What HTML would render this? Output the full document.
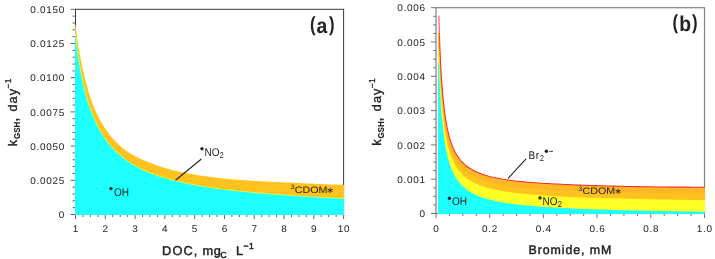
<!DOCTYPE html>
<html lang="en"><head><meta charset="utf-8"><title>kGSH vs DOC and Bromide</title>
<style>html,body{margin:0;padding:0;background:#fff}svg{display:block}</style></head>
<body>
<svg width="715" height="259" viewBox="0 0 715 259" font-family="'Liberation Sans', 'DejaVu Sans', sans-serif">
<rect width="715" height="259" fill="#fff"/>
<g id="panel-a">
<rect x="75.5" y="9.3" width="268.10" height="205.20" fill="none" stroke="#3a3a3a" stroke-width="1"/>
<path d="M70.70,214.50H75.5M72.50,207.66H75.5M72.50,200.82H75.5M72.50,193.98H75.5M72.50,187.14H75.5M70.70,180.30H75.5M72.50,173.46H75.5M72.50,166.62H75.5M72.50,159.78H75.5M72.50,152.94H75.5M70.70,146.10H75.5M72.50,139.26H75.5M72.50,132.42H75.5M72.50,125.58H75.5M72.50,118.74H75.5M70.70,111.90H75.5M72.50,105.06H75.5M72.50,98.22H75.5M72.50,91.38H75.5M72.50,84.54H75.5M70.70,77.70H75.5M72.50,70.86H75.5M72.50,64.02H75.5M72.50,57.18H75.5M72.50,50.34H75.5M70.70,43.50H75.5M72.50,36.66H75.5M72.50,29.82H75.5M72.50,22.98H75.5M72.50,16.14H75.5M70.70,9.30H75.5M75.50,214.5V219.00M82.95,214.5V217.00M90.39,214.5V217.00M97.84,214.5V217.00M105.29,214.5V219.00M112.74,214.5V217.00M120.18,214.5V217.00M127.63,214.5V217.00M135.08,214.5V219.00M142.53,214.5V217.00M149.97,214.5V217.00M157.42,214.5V217.00M164.87,214.5V219.00M172.31,214.5V217.00M179.76,214.5V217.00M187.21,214.5V217.00M194.66,214.5V219.00M202.10,214.5V217.00M209.55,214.5V217.00M217.00,214.5V217.00M224.44,214.5V219.00M231.89,214.5V217.00M239.34,214.5V217.00M246.79,214.5V217.00M254.23,214.5V219.00M261.68,214.5V217.00M269.13,214.5V217.00M276.58,214.5V217.00M284.02,214.5V219.00M291.47,214.5V217.00M298.92,214.5V217.00M306.36,214.5V217.00M313.81,214.5V219.00M321.26,214.5V217.00M328.71,214.5V217.00M336.15,214.5V217.00M343.60,214.5V219.00" stroke="#505050" stroke-width="0.9" fill="none"/>
<path d="M75.00,215.00L75.00,24.87L75.5,24.9L76.0,28.8L76.5,32.6L77.0,36.3L77.5,39.8L78.0,43.2L78.5,46.4L79.0,49.5L79.5,52.5L80.0,55.4L80.5,58.1L81.1,60.8L81.6,63.4L82.1,65.9L82.6,68.3L83.1,70.6L83.6,72.9L84.1,75.1L84.6,77.2L85.1,79.2L85.6,81.2L86.1,83.2L86.6,85.0L87.1,86.8L87.6,88.6L88.1,90.3L88.6,92.0L89.1,93.6L89.6,95.1L90.1,96.7L90.6,98.1L91.2,99.6L91.7,101.0L92.2,102.4L92.7,103.7L93.2,105.0L93.7,106.3L94.2,107.5L94.7,108.7L95.2,109.9L95.7,111.1L96.2,112.2L96.7,113.3L97.2,114.4L97.7,115.4L98.2,116.4L98.7,117.4L99.2,118.4L99.7,119.4L100.2,120.3L100.7,121.2L101.2,122.1L101.8,123.0L102.3,123.9L102.8,124.7L103.3,125.5L103.8,126.4L104.3,127.2L104.8,127.9L105.3,128.7L107.3,131.6L109.3,134.2L111.3,136.7L113.3,139.0L115.3,141.2L117.3,143.2L119.3,145.1L121.3,146.9L123.3,148.5L125.3,150.0L127.3,151.4L129.3,152.7L131.3,153.9L133.3,155.1L135.3,156.2L137.3,157.3L139.3,158.3L141.3,159.2L143.3,160.1L145.3,161.0L147.3,161.8L149.3,162.5L151.3,163.3L153.4,164.1L155.4,164.8L157.4,165.6L159.4,166.2L161.4,166.9L163.4,167.5L165.4,168.1L167.4,168.7L169.4,169.2L171.4,169.8L173.4,170.3L175.4,170.8L177.4,171.2L179.4,171.7L181.4,172.1L183.4,172.5L185.4,173.0L187.4,173.3L189.4,173.7L191.4,174.1L193.4,174.4L195.4,174.8L197.4,175.1L199.4,175.4L201.4,175.7L203.4,176.0L205.4,176.3L207.4,176.6L209.4,176.8L211.4,177.1L213.4,177.3L215.4,177.6L217.4,177.8L219.4,178.0L221.4,178.2L223.4,178.5L225.4,178.7L227.4,178.8L229.5,179.0L231.5,179.2L233.5,179.4L235.5,179.6L237.5,179.7L239.5,179.9L241.5,180.0L243.5,180.2L245.5,180.3L247.5,180.5L249.5,180.6L251.5,180.7L253.5,180.9L255.5,181.0L257.5,181.1L259.5,181.2L261.5,181.3L263.5,181.4L265.5,181.5L267.5,181.6L269.5,181.7L271.5,181.8L273.5,181.9L275.5,182.0L277.5,182.1L279.5,182.2L281.5,182.2L283.5,182.3L285.5,182.4L287.5,182.4L289.5,182.5L291.5,182.6L293.5,182.7L295.5,182.8L297.5,182.9L299.5,183.1L301.5,183.2L303.5,183.3L305.6,183.4L307.6,183.5L309.6,183.6L311.6,183.7L313.6,183.7L315.6,183.8L317.6,183.9L319.6,184.0L321.6,184.1L323.6,184.2L325.6,184.3L327.6,184.3L329.6,184.4L331.6,184.5L333.6,184.6L335.6,184.6L337.6,184.7L339.6,184.8L341.6,184.8L343.6,184.9L344.00,184.92L344.00,215.00Z" fill="#FFC21E"/>
<path d="M75.00,215.00L75.00,33.13L75.5,33.1L76.0,37.7L76.5,42.1L77.0,46.2L77.5,50.2L78.0,54.0L78.5,57.6L79.0,60.9L79.5,64.1L80.0,67.1L80.5,70.0L81.1,72.8L81.6,75.5L82.1,78.1L82.6,80.5L83.1,82.9L83.6,85.2L84.1,87.3L84.6,89.4L85.1,91.5L85.6,93.4L86.1,95.3L86.6,97.1L87.1,98.9L87.6,100.6L88.1,102.2L88.6,103.8L89.1,105.3L89.6,106.8L90.1,108.2L90.6,109.6L91.2,111.0L91.7,112.3L92.2,113.5L92.7,114.7L93.2,115.9L93.7,117.1L94.2,118.4L94.7,119.6L95.2,120.7L95.7,121.8L96.2,122.9L96.7,124.0L97.2,125.1L97.7,126.1L98.2,127.1L98.7,128.1L99.2,129.0L99.7,129.9L100.2,130.8L100.7,131.7L101.2,132.6L101.8,133.4L102.3,134.3L102.8,135.1L103.3,135.9L103.8,136.6L104.3,137.4L104.8,138.1L105.3,138.9L107.3,141.6L109.3,144.2L111.3,146.5L113.3,148.7L115.3,150.8L117.3,152.7L119.3,154.5L121.3,156.2L123.3,157.8L125.3,159.3L127.3,160.7L129.3,162.1L131.3,163.4L133.3,164.6L135.3,165.7L137.3,166.8L139.3,167.9L141.3,168.9L143.3,169.9L145.3,170.8L147.3,171.7L149.3,172.5L151.3,173.3L153.4,174.1L155.4,174.8L157.4,175.5L159.4,176.2L161.4,176.8L163.4,177.4L165.4,178.0L167.4,178.6L169.4,179.2L171.4,179.7L173.4,180.2L175.4,180.7L177.4,181.2L179.4,181.7L181.4,182.1L183.4,182.6L185.4,183.0L187.4,183.4L189.4,183.8L191.4,184.2L193.4,184.6L195.4,185.0L197.4,185.4L199.4,185.7L201.4,186.1L203.4,186.4L205.4,186.7L207.4,187.0L209.4,187.4L211.4,187.7L213.4,187.9L215.4,188.2L217.4,188.5L219.4,188.8L221.4,189.1L223.4,189.3L225.4,189.6L227.4,189.8L229.5,190.0L231.5,190.3L233.5,190.5L235.5,190.7L237.5,190.9L239.5,191.1L241.5,191.3L243.5,191.5L245.5,191.7L247.5,191.9L249.5,192.1L251.5,192.3L253.5,192.5L255.5,192.7L257.5,192.8L259.5,193.0L261.5,193.2L263.5,193.3L265.5,193.5L267.5,193.6L269.5,193.8L271.5,193.9L273.5,194.1L275.5,194.2L277.5,194.4L279.5,194.5L281.5,194.7L283.5,194.8L285.5,194.9L287.5,195.1L289.5,195.2L291.5,195.4L293.5,195.5L295.5,195.6L297.5,195.8L299.5,195.9L301.5,196.0L303.5,196.2L305.6,196.3L307.6,196.4L309.6,196.5L311.6,196.7L313.6,196.8L315.6,196.9L317.6,197.0L319.6,197.1L321.6,197.3L323.6,197.4L325.6,197.5L327.6,197.6L329.6,197.7L331.6,197.8L333.6,197.9L335.6,198.0L337.6,198.1L339.6,198.2L341.6,198.3L343.6,198.4L344.00,198.42L344.00,215.00Z" fill="#1EFFFF"/>
<path d="M75.5,33.1L76.0,37.7L76.5,42.1L77.0,46.2L77.5,50.2L78.0,54.0L78.5,57.6L79.0,60.9L79.5,64.1L80.0,67.1L80.5,70.0L81.1,72.8L81.6,75.5L82.1,78.1L82.6,80.5L83.1,82.9L83.6,85.2L84.1,87.3L84.6,89.4L85.1,91.5L85.6,93.4L86.1,95.3L86.6,97.1L87.1,98.9L87.6,100.6L88.1,102.2L88.6,103.8L89.1,105.3L89.6,106.8L90.1,108.2L90.6,109.6L91.2,111.0L91.7,112.3L92.2,113.5L92.7,114.7L93.2,115.9L93.7,117.1L94.2,118.4L94.7,119.6L95.2,120.7L95.7,121.8L96.2,122.9L96.7,124.0L97.2,125.1L97.7,126.1L98.2,127.1L98.7,128.1L99.2,129.0L99.7,129.9L100.2,130.8L100.7,131.7L101.2,132.6L101.8,133.4L102.3,134.3L102.8,135.1L103.3,135.9L103.8,136.6L104.3,137.4L104.8,138.1L105.3,138.9L107.3,141.6L109.3,144.2L111.3,146.5L113.3,148.7L115.3,150.8L117.3,152.7L119.3,154.5L121.3,156.2L123.3,157.8L125.3,159.3L127.3,160.7L129.3,162.1L131.3,163.4L133.3,164.6L135.3,165.7L137.3,166.8L139.3,167.9L141.3,168.9L143.3,169.9L145.3,170.8L147.3,171.7L149.3,172.5L151.3,173.3L153.4,174.1L155.4,174.8L157.4,175.5L159.4,176.2L161.4,176.8L163.4,177.4L165.4,178.0L167.4,178.6L169.4,179.2L171.4,179.7L173.4,180.2L175.4,180.7L177.4,181.2L179.4,181.7L181.4,182.1L183.4,182.6L185.4,183.0L187.4,183.4L189.4,183.8L191.4,184.2L193.4,184.6L195.4,185.0L197.4,185.4L199.4,185.7L201.4,186.1L203.4,186.4L205.4,186.7L207.4,187.0L209.4,187.4L211.4,187.7L213.4,187.9L215.4,188.2L217.4,188.5L219.4,188.8L221.4,189.1L223.4,189.3L225.4,189.6L227.4,189.8L229.5,190.0L231.5,190.3L233.5,190.5L235.5,190.7L237.5,190.9L239.5,191.1L241.5,191.3L243.5,191.5L245.5,191.7L247.5,191.9L249.5,192.1L251.5,192.3L253.5,192.5L255.5,192.7L257.5,192.8L259.5,193.0L261.5,193.2L263.5,193.3L265.5,193.5L267.5,193.6L269.5,193.8L271.5,193.9L273.5,194.1L275.5,194.2L277.5,194.4L279.5,194.5L281.5,194.7L283.5,194.8L285.5,194.9L287.5,195.1L289.5,195.2L291.5,195.4L293.5,195.5L295.5,195.6L297.5,195.8L299.5,195.9L301.5,196.0L303.5,196.2L305.6,196.3L307.6,196.4L309.6,196.5L311.6,196.7L313.6,196.8L315.6,196.9L317.6,197.0L319.6,197.1L321.6,197.3L323.6,197.4L325.6,197.5L327.6,197.6L329.6,197.7L331.6,197.8L333.6,197.9L335.6,198.0L337.6,198.1L339.6,198.2L341.6,198.3L343.6,198.4" fill="none" stroke="#FFFF28" stroke-width="0.7"/>
<g font-size="9.7" fill="#222" text-anchor="end" letter-spacing="0.7">
<text transform="translate(65.10,218.20) skewX(0.1) scale(1.03,1)" >0</text>
<text transform="translate(65.10,184.00) skewX(0.1) scale(1.03,1)" >0.0025</text>
<text transform="translate(65.10,149.80) skewX(0.1) scale(1.03,1)" >0.0050</text>
<text transform="translate(65.10,115.60) skewX(0.1) scale(1.03,1)" >0.0075</text>
<text transform="translate(65.10,81.40) skewX(0.1) scale(1.03,1)" >0.0100</text>
<text transform="translate(65.10,47.20) skewX(0.1) scale(1.03,1)" >0.0125</text>
<text transform="translate(65.10,13.00) skewX(0.1) scale(1.03,1)" >0.0150</text>
</g>
<g font-size="9.7" fill="#222" text-anchor="middle" letter-spacing="0.7">
<text transform="translate(75.85,232.00) skewX(0.1) scale(1.03,1)" >1</text>
<text transform="translate(105.64,232.00) skewX(0.1) scale(1.03,1)" >2</text>
<text transform="translate(135.43,232.00) skewX(0.1) scale(1.03,1)" >3</text>
<text transform="translate(165.22,232.00) skewX(0.1) scale(1.03,1)" >4</text>
<text transform="translate(195.01,232.00) skewX(0.1) scale(1.03,1)" >5</text>
<text transform="translate(224.79,232.00) skewX(0.1) scale(1.03,1)" >6</text>
<text transform="translate(254.58,232.00) skewX(0.1) scale(1.03,1)" >7</text>
<text transform="translate(284.37,232.00) skewX(0.1) scale(1.03,1)" >8</text>
<text transform="translate(314.16,232.00) skewX(0.1) scale(1.03,1)" >9</text>
<text transform="translate(343.95,232.00) skewX(0.1) scale(1.03,1)" >10</text>
</g>
<g transform="translate(17,146.2) rotate(-90)" fill="#222" stroke="#222" stroke-width="0.34">
<text x="0" y="0" font-size="12.8">k</text>
<text transform="translate(7.2,3.1) scale(0.86,1)" font-size="9.3" font-weight="bold" stroke-width="0.1">GSH</text>
<text x="24.6" y="0.6" font-size="13" font-weight="bold" stroke-width="0.1">,</text>
<text x="34.6" y="0" font-size="12.6" letter-spacing="1.15">day</text>
<text x="57.3" y="-6.2" font-size="8.6" letter-spacing="0.6">−1</text>
</g>
<text transform="translate(0.00,254.80) skewX(0.1)" font-size="12.8" fill="#222" stroke="#222" stroke-width="0.45"><tspan x="162.1" letter-spacing="1.1">DOC,</tspan><tspan x="202.4" letter-spacing="0.8">mg</tspan><tspan x="220.2" font-size="9" dy="3.2" font-weight="bold" stroke-width="0.1">C</tspan><tspan x="236" dy="-3.2">L</tspan><tspan x="243.4" font-size="8.6" dy="-6" letter-spacing="0.5">−1</tspan></text>
<text transform="translate(310.00,30.70) skewX(0.1) scale(0.82,1)" font-weight="bold" fill="#222" font-size="20.5">(</text>
<text transform="translate(316.60,32.80) skewX(0.1) scale(0.9,1)" font-weight="bold" fill="#222" font-size="21.5">a</text>
<text transform="translate(328.90,30.70) skewX(0.1) scale(0.82,1)" font-weight="bold" fill="#222" font-size="20.5">)</text>
<circle cx="111" cy="188.6" r="1.7" fill="#222"/>
<text transform="translate(113.90,196.00) skewX(0.1) scale(0.9,1)" font-size="11.2" fill="#222" >OH</text>
<circle cx="202" cy="148.7" r="1.7" fill="#222"/>
<text transform="translate(204.50,155.70) skewX(0.1) scale(0.9,1)" font-size="11.2" fill="#222" >NO<tspan font-size="8.5" dy="1.9">2</tspan></text>
<text transform="translate(294.90,192.70) skewX(0.1) scale(1.14,1)" font-size="9.4" fill="#222" ><tspan font-size="6.3" dy="-3.6" dx="-3.6">3</tspan><tspan dy="3.6">CDOM</tspan><tspan dx="-1" font-size="8.2">∗</tspan></text>
<path d="M175.5,180.2L201.4,159" stroke="#222" stroke-width="1.1"/>
</g>
<g id="panel-b">
<rect x="436" y="7.7" width="268.50" height="205.80" fill="none" stroke="#808080" stroke-width="1.2"/>
<path d="M431.00,213.50H436M433.20,204.93H436M433.20,196.35H436M433.20,187.78H436M431.00,179.20H436M433.20,170.62H436M433.20,162.05H436M433.20,153.47H436M431.00,144.90H436M433.20,136.32H436M433.20,127.75H436M433.20,119.17H436M431.00,110.60H436M433.20,102.02H436M433.20,93.45H436M433.20,84.88H436M431.00,76.30H436M433.20,67.72H436M433.20,59.15H436M433.20,50.57H436M431.00,42.00H436M433.20,33.42H436M433.20,24.85H436M433.20,16.27H436M431.00,7.70H436M436.00,213.5V218.20M449.43,213.5V216.10M462.85,213.5V216.10M476.27,213.5V216.10M489.70,213.5V218.20M503.12,213.5V216.10M516.55,213.5V216.10M529.98,213.5V216.10M543.40,213.5V218.20M556.83,213.5V216.10M570.25,213.5V216.10M583.67,213.5V216.10M597.10,213.5V218.20M610.52,213.5V216.10M623.95,213.5V216.10M637.38,213.5V216.10M650.80,213.5V218.20M664.23,213.5V216.10M677.65,213.5V216.10M691.08,213.5V216.10M704.50,213.5V218.20" stroke="#666" stroke-width="0.9" fill="none"/>
<path d="M438.00,214.00L438.00,33.60L438.8,33.6L439.0,33.6L439.2,33.6L439.4,33.6L439.6,39.0L439.8,44.5L440.0,49.6L440.2,54.4L440.4,58.8L440.6,63.0L440.8,66.9L441.0,70.6L441.2,74.1L441.4,77.3L441.6,80.4L441.8,83.4L442.1,86.2L442.3,88.8L442.5,91.3L442.7,93.7L442.9,96.0L443.1,98.2L443.3,100.3L443.5,102.3L443.7,104.2L443.9,106.0L444.1,107.8L444.3,109.4L444.5,111.1L444.7,112.6L444.9,114.1L445.1,115.6L445.3,116.9L445.5,118.3L445.7,119.6L445.9,120.8L446.1,122.0L446.3,123.2L446.5,124.3L446.7,125.4L446.9,126.4L447.1,127.5L447.3,128.5L447.5,129.4L447.7,130.4L447.9,131.3L448.1,132.1L448.3,133.0L448.5,133.8L448.7,134.6L448.9,135.4L449.1,136.2L449.3,136.9L449.5,137.6L449.7,138.3L449.9,139.0L450.1,139.7L450.3,140.3L450.5,141.0L450.7,141.6L450.9,142.2L451.1,142.8L451.3,143.3L451.5,143.9L451.7,144.5L451.9,145.0L452.1,145.5L452.3,146.0L452.6,146.5L452.8,147.0L453.0,147.5L453.2,148.0L453.4,148.4L453.6,148.9L453.8,149.3L454.0,149.8L454.2,150.2L454.4,150.6L454.6,151.0L454.8,151.4L455.0,151.8L455.2,152.2L455.4,152.5L455.6,152.9L455.8,153.3L456.0,153.6L456.2,154.0L456.4,154.3L456.6,154.7L456.8,155.0L457.0,155.3L457.2,155.6L457.4,155.9L457.6,156.2L457.8,156.5L458.0,156.8L458.2,157.1L458.4,157.4L458.6,157.7L458.8,158.0L459.0,158.3L459.2,158.5L459.4,158.8L459.6,159.0L459.8,159.3L460.0,159.6L460.2,159.8L460.4,160.0L460.6,160.3L460.8,160.5L461.0,160.8L461.2,161.0L461.4,161.2L461.6,161.4L461.8,161.7L462.0,161.9L462.2,162.1L462.4,162.3L462.6,162.5L462.9,162.7L464.9,164.6L466.9,166.3L468.9,167.7L471.0,169.0L473.0,170.2L475.0,171.2L477.1,172.2L479.1,173.0L481.1,173.8L483.2,174.5L485.2,175.2L487.2,175.8L489.2,176.4L491.3,176.9L493.3,177.4L495.3,177.8L497.4,178.2L499.4,178.6L501.4,179.0L503.5,179.3L505.5,179.6L507.5,179.9L509.6,180.2L511.6,180.5L513.6,180.8L515.6,181.0L517.7,181.2L519.7,181.4L521.7,181.6L523.8,181.8L525.8,182.0L527.8,182.2L529.9,182.4L531.9,182.5L533.9,182.7L536.0,182.8L538.0,183.0L540.0,183.1L542.0,183.2L544.1,183.4L546.1,183.5L548.1,183.6L550.2,183.7L552.2,183.8L554.2,183.9L556.3,184.0L558.3,184.1L560.3,184.2L562.4,184.3L564.4,184.4L566.4,184.5L568.4,184.6L570.5,184.7L572.5,184.8L574.5,184.9L576.6,184.9L578.6,185.0L580.6,185.1L582.7,185.2L584.7,185.2L586.7,185.3L588.8,185.4L590.8,185.5L592.8,185.5L594.8,185.6L596.9,185.6L598.9,185.7L600.9,185.8L603.0,185.8L605.0,185.9L607.0,185.9L609.1,186.0L611.1,186.0L613.1,186.1L615.2,186.1L617.2,186.2L619.2,186.2L621.2,186.3L623.3,186.3L625.3,186.4L627.3,186.4L629.4,186.4L631.4,186.5L633.4,186.5L635.5,186.6L637.5,186.6L639.5,186.6L641.5,186.7L643.6,186.7L645.6,186.7L647.6,186.8L649.7,186.8L651.7,186.8L653.7,186.9L655.8,186.9L657.8,186.9L659.8,187.0L661.9,187.0L663.9,187.0L665.9,187.0L667.9,187.0L670.0,187.1L672.0,187.1L674.0,187.1L676.1,187.1L678.1,187.1L680.1,187.1L682.2,187.1L684.2,187.1L686.2,187.1L688.3,187.1L690.3,187.2L692.3,187.2L694.3,187.2L696.4,187.2L698.4,187.2L700.4,187.2L702.5,187.2L704.5,187.2L705.00,187.19L705.00,214.00Z" fill="#FFB726"/>
<path d="M438.00,214.00L438.00,41.27L438.8,41.3L439.0,44.1L439.2,46.7L439.4,49.2L439.6,54.2L439.8,59.1L440.0,63.6L440.2,67.9L440.4,71.9L440.6,75.7L440.8,79.2L441.0,82.5L441.2,85.7L441.4,88.7L441.6,91.5L441.8,94.2L442.1,96.7L442.3,99.2L442.5,101.5L442.7,103.7L442.9,105.8L443.1,107.8L443.3,109.7L443.5,111.6L443.7,113.4L443.9,115.1L444.1,116.7L444.3,118.3L444.5,119.8L444.7,121.2L444.9,122.6L445.1,124.0L445.3,125.3L445.5,126.5L445.7,127.7L445.9,128.9L446.1,130.0L446.3,131.1L446.5,132.2L446.7,133.2L446.9,134.2L447.1,135.2L447.3,136.1L447.5,137.0L447.7,137.9L447.9,138.7L448.1,139.6L448.3,140.4L448.5,141.2L448.7,141.9L448.9,142.7L449.1,143.4L449.3,144.1L449.5,144.8L449.7,145.4L449.9,146.1L450.1,146.7L450.3,147.3L450.5,148.0L450.7,148.5L450.9,149.1L451.1,149.7L451.3,150.2L451.5,150.8L451.7,151.3L451.9,151.8L452.1,152.3L452.3,152.8L452.6,153.3L452.8,153.7L453.0,154.2L453.2,154.7L453.4,155.1L453.6,155.5L453.8,156.0L454.0,156.4L454.2,156.8L454.4,157.2L454.6,157.6L454.8,157.9L455.0,158.3L455.2,158.7L455.4,159.1L455.6,159.4L455.8,159.8L456.0,160.1L456.2,160.4L456.4,160.8L456.6,161.1L456.8,161.4L457.0,161.7L457.2,162.0L457.4,162.3L457.6,162.6L457.8,162.9L458.0,163.2L458.2,163.5L458.4,163.8L458.6,164.0L458.8,164.3L459.0,164.6L459.2,164.8L459.4,165.1L459.6,165.3L459.8,165.6L460.0,165.8L460.2,166.1L460.4,166.3L460.6,166.5L460.8,166.8L461.0,167.0L461.2,167.2L461.4,167.4L461.6,167.6L461.8,167.9L462.0,168.1L462.2,168.3L462.4,168.5L462.6,168.7L462.9,168.9L464.9,170.7L466.9,172.3L468.9,173.8L471.0,175.0L473.0,176.2L475.0,177.2L477.1,178.1L479.1,179.0L481.1,179.8L483.2,180.5L485.2,181.1L487.2,181.7L489.2,182.3L491.3,182.8L493.3,183.3L495.3,183.7L497.4,184.1L499.4,184.5L501.4,184.9L503.5,185.3L505.5,185.6L507.5,185.9L509.6,186.2L511.6,186.5L513.6,186.7L515.6,187.0L517.7,187.2L519.7,187.4L521.7,187.6L523.8,187.8L525.8,188.0L527.8,188.2L529.9,188.4L531.9,188.6L533.9,188.7L536.0,188.9L538.0,189.0L540.0,189.2L542.0,189.3L544.1,189.4L546.1,189.6L548.1,189.7L550.2,189.8L552.2,189.9L554.2,190.0L556.3,190.1L558.3,190.2L560.3,190.3L562.4,190.4L564.4,190.5L566.4,190.6L568.4,190.7L570.5,190.8L572.5,190.9L574.5,191.0L576.6,191.1L578.6,191.2L580.6,191.2L582.7,191.3L584.7,191.4L586.7,191.5L588.8,191.5L590.8,191.6L592.8,191.7L594.8,191.7L596.9,191.8L598.9,191.9L600.9,191.9L603.0,192.0L605.0,192.0L607.0,192.1L609.1,192.1L611.1,192.2L613.1,192.3L615.2,192.3L617.2,192.4L619.2,192.4L621.2,192.5L623.3,192.5L625.3,192.5L627.3,192.6L629.4,192.6L631.4,192.7L633.4,192.7L635.5,192.8L637.5,192.8L639.5,192.8L641.5,192.9L643.6,192.9L645.6,193.0L647.6,193.0L649.7,193.0L651.7,193.1L653.7,193.1L655.8,193.1L657.8,193.2L659.8,193.2L661.9,193.2L663.9,193.3L665.9,193.3L667.9,193.3L670.0,193.3L672.0,193.4L674.0,193.4L676.1,193.4L678.1,193.4L680.1,193.4L682.2,193.5L684.2,193.5L686.2,193.5L688.3,193.5L690.3,193.5L692.3,193.5L694.3,193.6L696.4,193.6L698.4,193.6L700.4,193.6L702.5,193.6L704.5,193.6L705.00,193.64L705.00,214.00Z" fill="#FFC21E"/>
<path d="M438.00,214.00L438.00,48.95L438.8,49.0L439.0,54.6L439.2,59.9L439.4,64.8L439.6,69.4L439.8,73.6L440.0,77.6L440.2,81.4L440.4,85.0L440.6,88.3L440.8,91.5L441.0,94.5L441.2,97.3L441.4,100.0L441.6,102.6L441.8,105.0L442.1,107.3L442.3,109.5L442.5,111.6L442.7,113.7L442.9,115.6L443.1,117.4L443.3,119.2L443.5,120.9L443.7,122.5L443.9,124.1L444.1,125.6L444.3,127.1L444.5,128.5L444.7,129.8L444.9,131.1L445.1,132.4L445.3,133.6L445.5,134.7L445.7,135.9L445.9,137.0L446.1,138.0L446.3,139.1L446.5,140.0L446.7,141.0L446.9,141.9L447.1,142.8L447.3,143.7L447.5,144.6L447.7,145.4L447.9,146.2L448.1,147.0L448.3,147.8L448.5,148.5L448.7,149.2L448.9,149.9L449.1,150.6L449.3,151.3L449.5,151.9L449.7,152.6L449.9,153.2L450.1,153.8L450.3,154.4L450.5,154.9L450.7,155.5L450.9,156.1L451.1,156.6L451.3,157.1L451.5,157.6L451.7,158.1L451.9,158.6L452.1,159.1L452.3,159.6L452.6,160.0L452.8,160.5L453.0,160.9L453.2,161.3L453.4,161.8L453.6,162.2L453.8,162.6L454.0,163.0L454.2,163.4L454.4,163.8L454.6,164.1L454.8,164.5L455.0,164.9L455.2,165.2L455.4,165.6L455.6,165.9L455.8,166.2L456.0,166.6L456.2,166.9L456.4,167.2L456.6,167.5L456.8,167.8L457.0,168.1L457.2,168.4L457.4,168.7L457.6,169.0L457.8,169.3L458.0,169.5L458.2,169.8L458.4,170.1L458.6,170.4L458.8,170.6L459.0,170.9L459.2,171.1L459.4,171.4L459.6,171.6L459.8,171.8L460.0,172.1L460.2,172.3L460.4,172.5L460.6,172.8L460.8,173.0L461.0,173.2L461.2,173.4L461.4,173.6L461.6,173.8L461.8,174.1L462.0,174.3L462.2,174.5L462.4,174.7L462.6,174.8L462.9,175.0L464.9,176.8L466.9,178.4L468.9,179.8L471.0,181.1L473.0,182.2L475.0,183.2L477.1,184.1L479.1,184.9L481.1,185.7L483.2,186.4L485.2,187.1L487.2,187.7L489.2,188.2L491.3,188.7L493.3,189.2L495.3,189.7L497.4,190.1L499.4,190.5L501.4,190.8L503.5,191.2L505.5,191.5L507.5,191.8L509.6,192.1L511.6,192.4L513.6,192.7L515.6,192.9L517.7,193.2L519.7,193.4L521.7,193.6L523.8,193.8L525.8,194.0L527.8,194.2L529.9,194.4L531.9,194.6L533.9,194.8L536.0,194.9L538.0,195.1L540.0,195.2L542.0,195.4L544.1,195.5L546.1,195.6L548.1,195.8L550.2,195.9L552.2,196.0L554.2,196.1L556.3,196.3L558.3,196.4L560.3,196.5L562.4,196.6L564.4,196.7L566.4,196.8L568.4,196.9L570.5,197.0L572.5,197.1L574.5,197.1L576.6,197.2L578.6,197.3L580.6,197.4L582.7,197.5L584.7,197.5L586.7,197.6L588.8,197.7L590.8,197.8L592.8,197.8L594.8,197.9L596.9,198.0L598.9,198.0L600.9,198.1L603.0,198.1L605.0,198.2L607.0,198.3L609.1,198.3L611.1,198.4L613.1,198.4L615.2,198.5L617.2,198.5L619.2,198.6L621.2,198.6L623.3,198.7L625.3,198.7L627.3,198.8L629.4,198.8L631.4,198.9L633.4,198.9L635.5,199.0L637.5,199.0L639.5,199.0L641.5,199.1L643.6,199.1L645.6,199.2L647.6,199.2L649.7,199.2L651.7,199.3L653.7,199.3L655.8,199.4L657.8,199.4L659.8,199.4L661.9,199.5L663.9,199.5L665.9,199.5L667.9,199.6L670.0,199.6L672.0,199.6L674.0,199.7L676.1,199.7L678.1,199.7L680.1,199.8L682.2,199.8L684.2,199.8L686.2,199.8L688.3,199.9L690.3,199.9L692.3,199.9L694.3,200.0L696.4,200.0L698.4,200.0L700.4,200.0L702.5,200.1L704.5,200.1L705.00,200.09L705.00,214.00Z" fill="#FFFF28"/>
<path d="M438.00,214.00L438.00,62.50L438.8,62.5L439.0,68.0L439.2,73.0L439.4,77.8L439.6,82.2L439.8,86.4L440.0,90.3L440.2,93.9L440.4,97.4L440.6,100.7L440.8,103.7L441.0,106.7L441.2,109.4L441.4,112.1L441.6,114.6L441.8,117.0L442.1,119.2L442.3,121.4L442.5,123.5L442.7,125.4L442.9,127.3L443.1,129.2L443.3,130.9L443.5,132.6L443.7,134.2L443.9,135.7L444.1,137.2L444.3,138.6L444.5,140.0L444.7,141.3L444.9,142.6L445.1,143.9L445.3,145.1L445.5,146.2L445.7,147.3L445.9,148.4L446.1,149.5L446.3,150.5L446.5,151.5L446.7,152.4L446.9,153.3L447.1,154.2L447.3,155.1L447.5,156.0L447.7,156.8L447.9,157.6L448.1,158.4L448.3,159.1L448.5,159.8L448.7,160.6L448.9,161.3L449.1,161.9L449.3,162.6L449.5,163.3L449.7,163.9L449.9,164.5L450.1,165.1L450.3,165.7L450.5,166.3L450.7,166.8L450.9,167.4L451.1,167.9L451.3,168.4L451.5,168.9L451.7,169.4L451.9,169.9L452.1,170.4L452.3,170.9L452.6,171.3L452.8,171.8L453.0,172.2L453.2,172.6L453.4,173.0L453.6,173.5L453.8,173.9L454.0,174.3L454.2,174.6L454.4,175.0L454.6,175.4L454.8,175.8L455.0,176.1L455.2,176.5L455.4,176.8L455.6,177.2L455.8,177.5L456.0,177.8L456.2,178.2L456.4,178.5L456.6,178.8L456.8,179.1L457.0,179.4L457.2,179.7L457.4,180.0L457.6,180.3L457.8,180.5L458.0,180.8L458.2,181.1L458.4,181.4L458.6,181.6L458.8,181.9L459.0,182.1L459.2,182.4L459.4,182.6L459.6,182.9L459.8,183.1L460.0,183.4L460.2,183.6L460.4,183.8L460.6,184.0L460.8,184.3L461.0,184.5L461.2,184.7L461.4,184.9L461.6,185.1L461.8,185.3L462.0,185.5L462.2,185.7L462.4,185.9L462.6,186.1L462.9,186.3L464.9,188.1L466.9,189.7L468.9,191.1L471.0,192.4L473.0,193.5L475.0,194.5L477.1,195.4L479.1,196.3L481.1,197.0L483.2,197.7L485.2,198.4L487.2,199.0L489.2,199.5L491.3,200.1L493.3,200.5L495.3,201.0L497.4,201.4L499.4,201.8L501.4,202.2L503.5,202.6L505.5,202.9L507.5,203.2L509.6,203.5L511.6,203.8L513.6,204.1L515.6,204.3L517.7,204.6L519.7,204.8L521.7,205.0L523.8,205.2L525.8,205.4L527.8,205.6L529.9,205.8L531.9,206.0L533.9,206.2L536.0,206.3L538.0,206.5L540.0,206.7L542.0,206.8L544.1,206.9L546.1,207.1L548.1,207.2L550.2,207.3L552.2,207.5L554.2,207.6L556.3,207.7L558.3,207.8L560.3,207.9L562.4,208.0L564.4,208.1L566.4,208.2L568.4,208.3L570.5,208.4L572.5,208.5L574.5,208.6L576.6,208.7L578.6,208.8L580.6,208.9L582.7,209.0L584.7,209.0L586.7,209.1L588.8,209.2L590.8,209.3L592.8,209.3L594.8,209.4L596.9,209.5L598.9,209.5L600.9,209.6L603.0,209.7L605.0,209.7L607.0,209.8L609.1,209.8L611.1,209.9L613.1,210.0L615.2,210.0L617.2,210.1L619.2,210.1L621.2,210.2L623.3,210.2L625.3,210.3L627.3,210.3L629.4,210.4L631.4,210.4L633.4,210.5L635.5,210.5L637.5,210.6L639.5,210.6L641.5,210.7L643.6,210.7L645.6,210.7L647.6,210.8L649.7,210.8L651.7,210.9L653.7,210.9L655.8,210.9L657.8,211.0L659.8,211.0L661.9,211.1L663.9,211.1L665.9,211.1L667.9,211.2L670.0,211.2L672.0,211.2L674.0,211.3L676.1,211.3L678.1,211.3L680.1,211.4L682.2,211.4L684.2,211.4L686.2,211.5L688.3,211.5L690.3,211.5L692.3,211.5L694.3,211.6L696.4,211.6L698.4,211.6L700.4,211.7L702.5,211.7L704.5,211.7L705.00,211.72L705.00,214.00Z" fill="#1EFFFF"/>
<path d="M438.8,15.6L439.0,19.9L439.2,26.8L439.4,33.1L439.6,39.0L439.8,44.5" fill="none" stroke="#FA2A2A" stroke-width="1.1" stroke-opacity="0.8"/>
<path d="M439.8,44.5L440.0,49.6L440.2,54.4L440.4,58.8L440.6,63.0L440.8,66.9L441.0,70.6L441.2,74.1L441.4,77.3L441.6,80.4L441.8,83.4L442.1,86.2L442.3,88.8L442.5,91.3L442.7,93.7L442.9,96.0L443.1,98.2L443.3,100.3L443.5,102.3L443.7,104.2L443.9,106.0L444.1,107.8L444.3,109.4L444.5,111.1L444.7,112.6L444.9,114.1L445.1,115.6L445.3,116.9L445.5,118.3L445.7,119.6L445.9,120.8L446.1,122.0L446.3,123.2L446.5,124.3L446.7,125.4L446.9,126.4L447.1,127.5L447.3,128.5L447.5,129.4L447.7,130.4L447.9,131.3L448.1,132.1L448.3,133.0L448.5,133.8L448.7,134.6L448.9,135.4L449.1,136.2L449.3,136.9L449.5,137.6L449.7,138.3L449.9,139.0L450.1,139.7L450.3,140.3L450.5,141.0L450.7,141.6L450.9,142.2L451.1,142.8L451.3,143.3L451.5,143.9L451.7,144.5L451.9,145.0L452.1,145.5L452.3,146.0L452.6,146.5L452.8,147.0L453.0,147.5L453.2,148.0L453.4,148.4L453.6,148.9L453.8,149.3L454.0,149.8L454.2,150.2L454.4,150.6L454.6,151.0L454.8,151.4L455.0,151.8L455.2,152.2L455.4,152.5L455.6,152.9L455.8,153.3L456.0,153.6L456.2,154.0L456.4,154.3L456.6,154.7L456.8,155.0L457.0,155.3L457.2,155.6L457.4,155.9L457.6,156.2L457.8,156.5L458.0,156.8L458.2,157.1L458.4,157.4L458.6,157.7L458.8,158.0L459.0,158.3L459.2,158.5L459.4,158.8L459.6,159.0L459.8,159.3L460.0,159.6L460.2,159.8L460.4,160.0L460.6,160.3L460.8,160.5L461.0,160.8L461.2,161.0L461.4,161.2L461.6,161.4L461.8,161.7L462.0,161.9L462.2,162.1L462.4,162.3L462.6,162.5L462.9,162.7L464.9,164.6L466.9,166.3L468.9,167.7L471.0,169.0L473.0,170.2L475.0,171.2L477.1,172.2L479.1,173.0L481.1,173.8L483.2,174.5L485.2,175.2L487.2,175.8L489.2,176.4L491.3,176.9L493.3,177.4L495.3,177.8L497.4,178.2L499.4,178.6L501.4,179.0L503.5,179.3L505.5,179.6L507.5,179.9L509.6,180.2L511.6,180.5L513.6,180.8L515.6,181.0L517.7,181.2L519.7,181.4L521.7,181.6L523.8,181.8L525.8,182.0L527.8,182.2L529.9,182.4L531.9,182.5L533.9,182.7L536.0,182.8L538.0,183.0L540.0,183.1L542.0,183.2L544.1,183.4L546.1,183.5L548.1,183.6L550.2,183.7L552.2,183.8L554.2,183.9L556.3,184.0L558.3,184.1L560.3,184.2L562.4,184.3L564.4,184.4L566.4,184.5L568.4,184.6L570.5,184.7L572.5,184.8L574.5,184.9L576.6,184.9L578.6,185.0L580.6,185.1L582.7,185.2L584.7,185.2L586.7,185.3L588.8,185.4L590.8,185.5L592.8,185.5L594.8,185.6L596.9,185.6L598.9,185.7L600.9,185.8L603.0,185.8L605.0,185.9L607.0,185.9L609.1,186.0L611.1,186.0L613.1,186.1L615.2,186.1L617.2,186.2L619.2,186.2L621.2,186.3L623.3,186.3L625.3,186.4L627.3,186.4L629.4,186.4L631.4,186.5L633.4,186.5L635.5,186.6L637.5,186.6L639.5,186.6L641.5,186.7L643.6,186.7L645.6,186.7L647.6,186.8L649.7,186.8L651.7,186.8L653.7,186.9L655.8,186.9L657.8,186.9L659.8,187.0L661.9,187.0L663.9,187.0L665.9,187.0L667.9,187.0L670.0,187.1L672.0,187.1L674.0,187.1L676.1,187.1L678.1,187.1L680.1,187.1L682.2,187.1L684.2,187.1L686.2,187.1L688.3,187.1L690.3,187.2L692.3,187.2L694.3,187.2L696.4,187.2L698.4,187.2L700.4,187.2L702.5,187.2L704.5,187.2" fill="none" stroke="#FA2A2A" stroke-width="1.05"/>
<g font-size="9.7" fill="#222" text-anchor="end" letter-spacing="0.7">
<text transform="translate(425.70,217.20) skewX(0.1) scale(1.03,1)" >0</text>
<text transform="translate(425.70,182.90) skewX(0.1) scale(1.03,1)" >0.001</text>
<text transform="translate(425.70,148.60) skewX(0.1) scale(1.03,1)" >0.002</text>
<text transform="translate(425.70,114.30) skewX(0.1) scale(1.03,1)" >0.003</text>
<text transform="translate(425.70,80.00) skewX(0.1) scale(1.03,1)" >0.004</text>
<text transform="translate(425.70,45.70) skewX(0.1) scale(1.03,1)" >0.005</text>
<text transform="translate(425.70,11.40) skewX(0.1) scale(1.03,1)" >0.006</text>
</g>
<g font-size="9.7" fill="#222" text-anchor="middle" letter-spacing="0.7">
<text transform="translate(436.35,232.00) skewX(0.1) scale(1.03,1)" >0</text>
<text transform="translate(490.05,232.00) skewX(0.1) scale(1.03,1)" >0.2</text>
<text transform="translate(543.75,232.00) skewX(0.1) scale(1.03,1)" >0.4</text>
<text transform="translate(597.45,232.00) skewX(0.1) scale(1.03,1)" >0.6</text>
<text transform="translate(651.15,232.00) skewX(0.1) scale(1.03,1)" >0.8</text>
<text transform="translate(704.85,232.00) skewX(0.1) scale(1.03,1)" >1.0</text>
</g>
<g transform="translate(381,145.8) rotate(-90)" fill="#222" stroke="#222" stroke-width="0.34">
<text x="0" y="0" font-size="12.8">k</text>
<text transform="translate(7.2,3.1) scale(0.86,1)" font-size="9.3" font-weight="bold" stroke-width="0.1">GSH</text>
<text x="24.6" y="0.6" font-size="13" font-weight="bold" stroke-width="0.1">,</text>
<text x="34.6" y="0" font-size="12.6" letter-spacing="1.15">day</text>
<text x="57.3" y="-6.2" font-size="8.6" letter-spacing="0.6">−1</text>
</g>
<text transform="translate(528.50,254.20) skewX(0.1)" font-size="12.4" letter-spacing="0.92" fill="#222" stroke="#222" stroke-width="0.45">Bromide, mM</text>
<text transform="translate(672.60,28.50) skewX(0.1) scale(0.82,1)" font-weight="bold" fill="#222" font-size="20.5">(</text>
<text transform="translate(679.30,30.60) skewX(0.1) scale(0.9,1)" font-weight="bold" fill="#222" font-size="21.5">b</text>
<text transform="translate(692.00,28.50) skewX(0.1) scale(0.82,1)" font-weight="bold" fill="#222" font-size="20.5">)</text>
<circle cx="449.4" cy="198.2" r="1.7" fill="#222"/>
<text transform="translate(452.00,205.20) skewX(0.1) scale(0.9,1)" font-size="11.2" fill="#222" >OH</text>
<circle cx="540" cy="197.9" r="1.7" fill="#222"/>
<text transform="translate(542.60,205.30) skewX(0.1) scale(0.9,1)" font-size="11.2" fill="#222" >NO<tspan font-size="8.5" dy="1.9">2</tspan></text>
<text transform="translate(582.70,194.30) skewX(0.1) scale(1.14,1)" font-size="9.4" fill="#222" ><tspan font-size="6.3" dy="-3.6" dx="-3.6">3</tspan><tspan dy="3.6">CDOM</tspan><tspan dx="-1" font-size="8.2">∗</tspan></text>
<text transform="translate(528.50,158.60) skewX(0.1) scale(0.9,1)" font-size="11.2" fill="#222" letter-spacing="0.6">Br<tspan font-size="8.5" dy="1.9">2</tspan></text>
<circle cx="546.4" cy="151.3" r="1.7" fill="#222"/>
<path d="M549.3,151.3H553" stroke="#222" stroke-width="0.9"/>
<path d="M508.1,178.4L526,158.9" stroke="#222" stroke-width="1.1"/>
</g>
</svg>
</body></html>
